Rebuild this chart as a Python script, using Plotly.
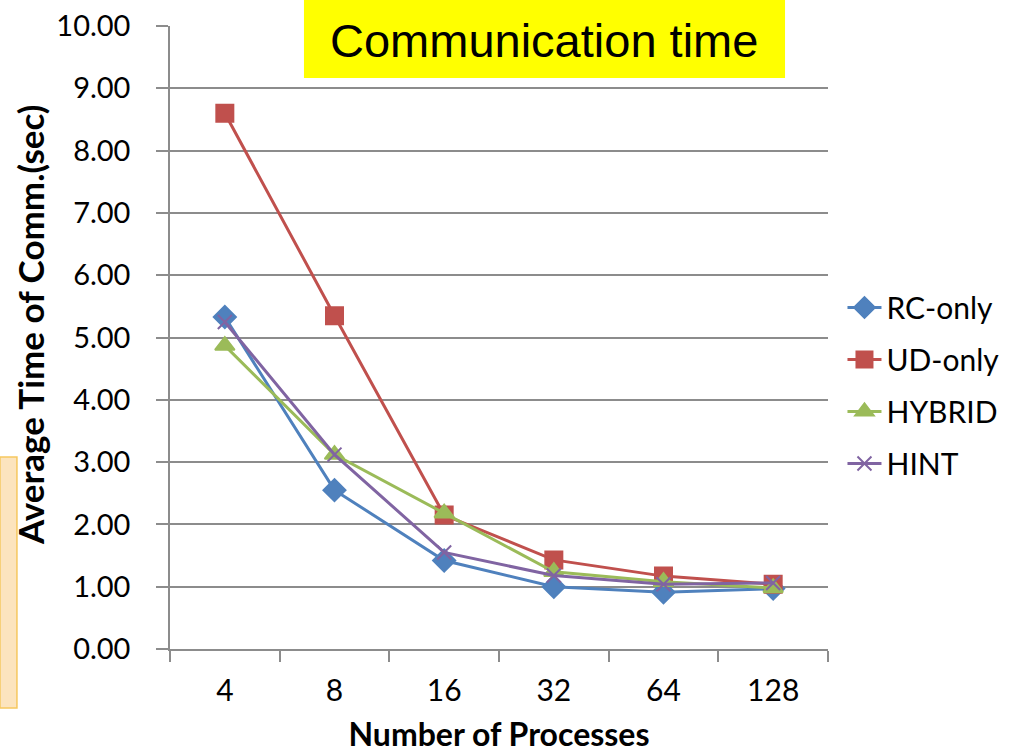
import plotly.graph_objects as go

# Number of processes (categories) and average communication time per scheme (sec)
processes = ["4", "8", "16", "32", "64", "128"]
rc_only = [5.33, 2.55, 1.42, 1.00, 0.91, 0.97]
ud_only = [8.60, 5.35, 2.15, 1.43, 1.17, 1.04]
hybrid = [4.87, 3.12, 2.18, 1.24, 1.08, 0.98]
hint = [5.25, 3.12, 1.55, 1.18, 1.04, 1.06]
y_ticks = [0, 1, 2, 3, 4, 5, 6, 7, 8, 9, 10]

series = [
    ("RC-only", rc_only, "#4F81BD", "diamond", 17),
    ("UD-only", ud_only, "#C0504D", "square", 17),
    ("HYBRID", hybrid, "#9BBB59", "triangle-up", 17),
    ("HINT", hint, "#8064A2", "x-thin", 14),
]

BODY_FONT = "Lato, 'Open Sans', sans-serif"

fig = go.Figure()
for name, vals, color, symbol, size in series:
    fig.add_trace(go.Scatter(
        x=processes, y=vals, name=name, mode="lines+markers",
        legendgroup=name,
        line=dict(color=color, width=3),
        marker=dict(symbol=symbol, size=size, color=color,
                    line=dict(color=color, width=2)),
    ))

fig.update_layout(
    width=1009, height=753,
    margin=dict(l=170, r=181, t=26, b=104, autoexpand=False),
    paper_bgcolor="white", plot_bgcolor="white",
    font=dict(family=BODY_FONT, color="black"),
    showlegend=True,
    legend=dict(
        x=1.022, y=0.423, xanchor="left", yanchor="middle",
        font=dict(size=30, family=BODY_FONT),
        tracegroupgap=10, itemsizing="trace", itemwidth=34,
    ),
    xaxis=dict(
        type="category", tickson="boundaries", automargin=False,
        range=[-0.5, len(processes) - 0.5],
        ticks="outside", ticklen=11, tickcolor="#8c8c8c", tickwidth=1.5,
        showline=True, linecolor="#8c8c8c", linewidth=1.5,
        showgrid=False, zeroline=False, ticklabelstandoff=14,
        tickfont=dict(size=30, family=BODY_FONT),
        title=dict(text="<b>Number of Processes</b>", font=dict(size=32, family=BODY_FONT), standoff=23),
    ),
    yaxis=dict(
        range=[0, 10], tickvals=y_ticks, tickformat=".2f", automargin=False,
        ticks="outside", ticklen=12, tickcolor="#8c8c8c", tickwidth=1.5,
        showline=True, linecolor="#8c8c8c", linewidth=1.5,
        showgrid=True, gridcolor="#8c8c8c", gridwidth=1.5,
        zeroline=False, ticklabelstandoff=20,
        tickfont=dict(size=29, family=BODY_FONT),
    ),
)

# Vertical axis title, set slightly above the plot's mid-height
fig.add_annotation(xref="paper", yref="paper", x=-0.2128, y=0.52,
                   text="<b>Average Time of Comm.(sec)</b>", textangle=-90, showarrow=False,
                   font=dict(size=35, family=BODY_FONT, color="black"),
                   xanchor="center", yanchor="middle")

# Yellow banner with the chart heading
fig.add_shape(type="rect", xref="paper", yref="paper",
              x0=0.2036, x1=0.9347, y0=0.9165, y1=1.0417,
              fillcolor="#FFFF00", line=dict(width=0), layer="above")
fig.add_annotation(xref="paper", yref="paper", x=0.569, y=0.9775,
                   text="Communication time", showarrow=False,
                   font=dict(family="'Liberation Sans', Arial, sans-serif", size=47, color="black"),
                   xanchor="center", yanchor="middle")

# Orange side panel at the left edge of the slide
fig.add_shape(type="rect", xref="paper", yref="paper",
              x0=-0.2584, x1=-0.2326, y0=-0.0947, y1=0.3082,
              fillcolor="#FCE4BE", line=dict(color="#F6C85F", width=1.5), layer="below")

fig.write_html("out.html")
